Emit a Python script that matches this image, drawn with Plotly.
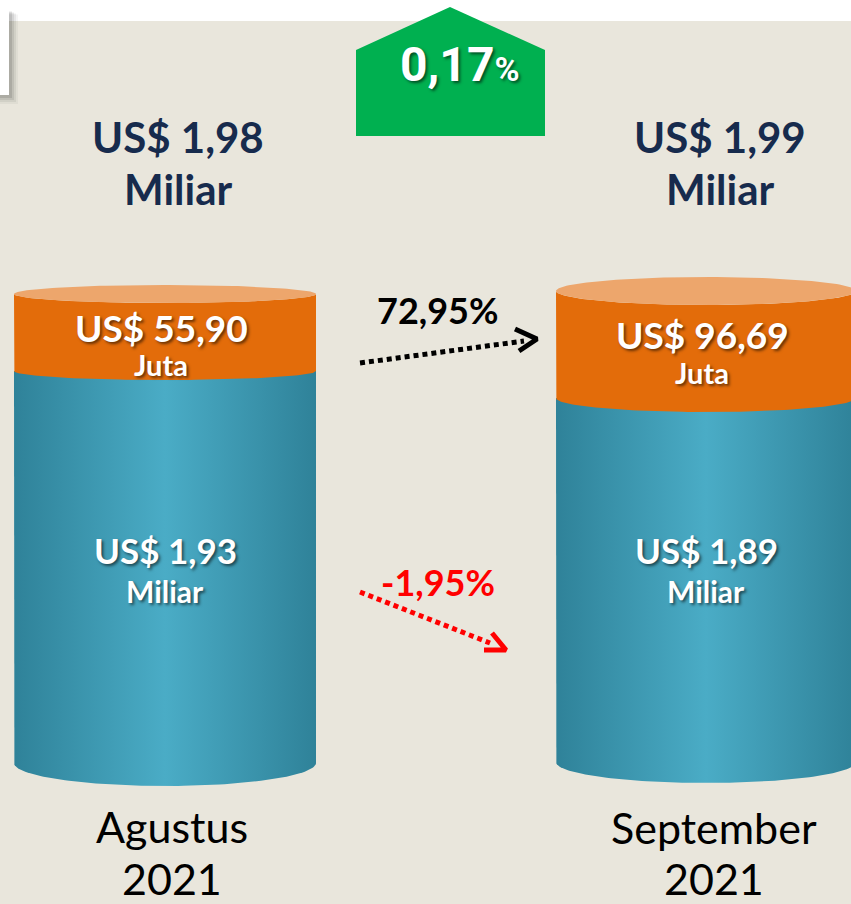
import numpy as np
import plotly.graph_objects as go

# ---------------- data ----------------
periods = ["Agustus", "September"]
years = ["2021", "2021"]
total_miliar = [1.98, 1.99]          # total (US$ miliar)
top_juta = [55.90, 96.69]            # orange segment (US$ juta)
bottom_miliar = [1.93, 1.89]         # teal segment (US$ miliar)
total_change_pct = 0.17
top_change_pct = 72.95
bottom_change_pct = -1.95

def fmt(v):
    return f"{v:.2f}".replace(".", ",")

# ---------------- layout constants ----------------
W, H = 851, 904
BG = "#E9E6DC"
NAVY = "#172B4D"
ORANGE = "#E36C0A"
ORANGE_TOP = "#EDA66C"
TEAL_SCALE = [[0, "#2F8299"], [0.5, "#4AACC6"], [1, "#2F8299"]]

cyl = [
    dict(cx=165, rx=151, top_y=294, top_ry=9, mid_y=371, mid_ry=9, bot_y=763, bot_ry=23),
    dict(cx=706, rx=150, top_y=291, top_ry=14, mid_y=398, mid_ry=14, bot_y=762, bot_ry=21),
]
label_x = [178, 720]

fig = go.Figure()

def arc(cx, cy, rx, ry, t0, t1, n=90):
    t = np.linspace(t0, t1, n)
    return list(cx + rx * np.cos(t)), list(cy + ry * np.sin(t))

def poly(xs, ys, **kw):
    fig.add_trace(go.Scatter(x=xs, y=ys, mode="lines", fill="toself",
                             line=dict(width=0), hoverinfo="skip", showlegend=False, **kw))

# green pentagon
poly([356, 356, 450, 545, 545, 356], [136, 50, 7, 50, 136, 136], fillcolor="#00B050")

# cylinders
for c in cyl:
    cx, rx = c["cx"], c["rx"]
    # teal body
    ax, ay = arc(cx, c["bot_y"], rx, c["bot_ry"], np.pi, 0)
    xs = [cx - rx] + ax + [cx + rx, cx - rx]
    ys = [c["mid_y"]] + ay + [c["mid_y"], c["mid_y"]]
    poly(xs, ys, fillgradient=dict(type="horizontal", colorscale=TEAL_SCALE))
    # orange body
    ax, ay = arc(cx, c["mid_y"], rx, c["mid_ry"], np.pi, 0)
    bx, by = arc(cx, c["top_y"], rx, c["top_ry"], 0, np.pi)
    xs = [cx - rx] + ax + bx + [cx - rx]
    ys = [c["top_y"]] + ay + by + [c["top_y"]]
    poly(xs, ys, fillcolor=ORANGE)
    # top face
    tx, ty = arc(cx, c["top_y"], rx, c["top_ry"], 0, 2 * np.pi, 160)
    poly(tx, ty, fillcolor=ORANGE_TOP)

# arrows (dotted)
def arrow(x0, y0, x1, y1, head, color):
    fig.add_trace(go.Scatter(x=[x0, x1], y=[y0, y1], mode="lines",
                             line=dict(color=color, width=5, dash="5px,4px"),
                             hoverinfo="skip", showlegend=False))
    fig.add_trace(go.Scatter(x=[p[0] for p in head], y=[p[1] for p in head], mode="lines",
                             line=dict(color=color, width=5),
                             hoverinfo="skip", showlegend=False))

arrow(360, 363, 524, 341, [(515, 329), (537, 339), (519, 351)], "black")
arrow(360, 592, 490, 643, [(492, 633), (506, 650), (484, 650)], "#FF0000")

# ---------------- text ----------------
ann = []
SH = "2px 2px 3px rgba(0,0,0,0.55)"

def txt(x, y, s, size, color, weight=700, family="Lato", shadow="none"):
    ann.append(dict(x=x, y=y, xref="x", yref="y", text=s, showarrow=False,
                    xanchor="center", yanchor="middle",
                    font=dict(family=family, size=size, color=color, weight=weight, shadow=shadow)))

txt(460, 64, f"{fmt(total_change_pct)}<span style='font-size:34px'>%</span>", 48, "white",
    family="Roboto", shadow=SH)

for i, c in enumerate(cyl):
    lx = label_x[i]
    txt(lx, 137, f"US$ {fmt(total_miliar[i])}", 42, NAVY)
    txt(lx, 189, "Miliar", 42, NAVY)
    txt(c["cx"] - 4, 327 if i == 0 else 334, f"US$ {fmt(top_juta[i])}", 37, "white", shadow=SH)
    txt(c["cx"] - 4, 364 if i == 0 else 372, "Juta", 29, "white", shadow=SH)
    txt(c["cx"], 550, f"US$ {fmt(bottom_miliar[i])}", 35, "white", shadow=SH)
    txt(c["cx"], 591, "Miliar", 30, "white", shadow=SH)

txt(172, 826, periods[0], 43, "black", weight=400)
txt(172, 878, years[0], 43, "black", weight=400)
txt(714, 827, periods[1], 43, "black", weight=400)
txt(714, 878, years[1], 43, "black", weight=400)

txt(437, 310, f"{fmt(top_change_pct)}%", 36, "black")
txt(438, 582, f"{fmt(bottom_change_pct)}%", 36, "#FF0000")

shapes = [
    dict(type="rect", xref="x", yref="y", x0=0, x1=W, y0=21, y1=H, fillcolor=BG,
         line=dict(width=0), layer="below"),
]
# white box with soft shadow in the top-left corner
for k, a in [(9, 0.04), (7, 0.06), (5, 0.08), (3, 0.1)]:
    shapes.append(dict(type="rect", xref="x", yref="y", x0=-10, x1=9 + k, y0=10 + k / 2, y1=95 + k,
                       fillcolor=f"rgba(0,0,0,{a})", line=dict(width=0), layer="above"))
shapes.append(dict(type="rect", xref="x", yref="y", x0=-10, x1=9, y0=10, y1=95,
                   fillcolor="white", line=dict(width=0), layer="above"))

fig.update_layout(
    width=W, height=H, margin=dict(l=0, r=0, t=0, b=0),
    paper_bgcolor="white", plot_bgcolor="white",
    xaxis=dict(range=[0, W], visible=False, fixedrange=True),
    yaxis=dict(range=[H, 0], visible=False, fixedrange=True),
    annotations=ann, shapes=shapes, showlegend=False,
)
fig.write_html("out.html", config={"displayModeBar": False},
               post_script="document.body.style.margin='0';document.body.style.overflow='hidden';")
